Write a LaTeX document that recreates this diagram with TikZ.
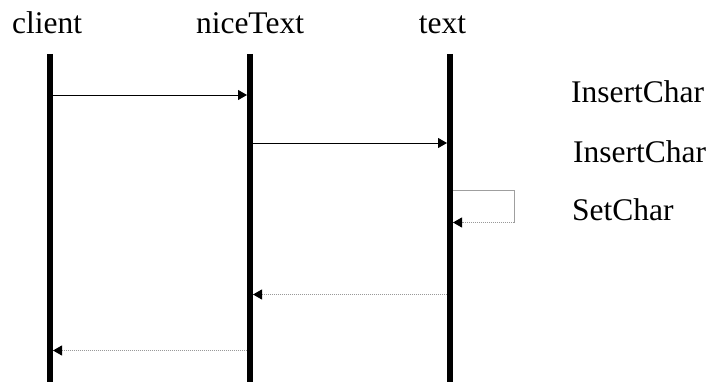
\documentclass[tikz,border=0pt]{standalone}
\usepackage{fontspec}
\setmainfont{Liberation Serif}
\usetikzlibrary{arrows.meta}
\begin{document}
\begin{tikzpicture}[x=1pt,y=-1pt,
  lbl/.style={inner sep=0pt,font=\fontsize{31.5}{36}\selectfont},
  lifeline/.style={line width=5.5pt,black},
  call/.style={line width=0.9pt,black,-{Triangle[length=9pt,width=10pt]}},
  ret/.style={line width=0.9pt,gray!80,dash pattern=on 1pt off 1pt,-{Triangle[length=9pt,width=10pt,color=black,fill=black]}},
  loopline/.style={line width=0.9pt,gray!75}]
\useasboundingbox (0,0) rectangle (711,382);
% heads
\node[lbl,anchor=base] (hc) at (47,34) {client};
\node[lbl,anchor=base] (hn) at (250,34) {niceText};
\node[lbl,anchor=base] (ht) at (442.5,34) {text};
% lifelines
\coordinate (ct) at (50,54); \coordinate (cb) at (50,382);
\coordinate (nt) at (250,54); \coordinate (nb) at (250,382);
\coordinate (tt) at (450,54); \coordinate (tb) at (450,382);
\draw[lifeline] (ct) -- (cb);
\draw[lifeline] (nt) -- (nb);
\draw[lifeline] (tt) -- (tb);
% message points
\coordinate (m1a) at (53,95);  \coordinate (m1b) at (247,95);
\coordinate (m2a) at (253,143); \coordinate (m2b) at (447,143);
\coordinate (s1) at (453,190.5); \coordinate (s2) at (514,190.5);
\coordinate (s3) at (514,222.5); \coordinate (s4) at (453,222.5);
\coordinate (r1a) at (447,294.5); \coordinate (r1b) at (253,294.5);
\coordinate (r2a) at (247,350.5); \coordinate (r2b) at (53,350.5);
\draw[call] (m1a) -- (m1b);
\draw[call] (m2a) -- (m2b);
\draw[loopline] (s1) -- (s2) -- (s3);
\draw[ret] (s3) -- (s4);
\draw[ret] (r1a) -- (r1b);
\draw[ret] (r2a) -- (r2b);
% labels
\node[lbl,anchor=base west] (l1) at (571,103) {InsertChar};
\node[lbl,anchor=base west] (l2) at (573,162) {InsertChar};
\node[lbl,anchor=base west] (l3) at (572,220) {SetChar};
\end{tikzpicture}
\end{document}
